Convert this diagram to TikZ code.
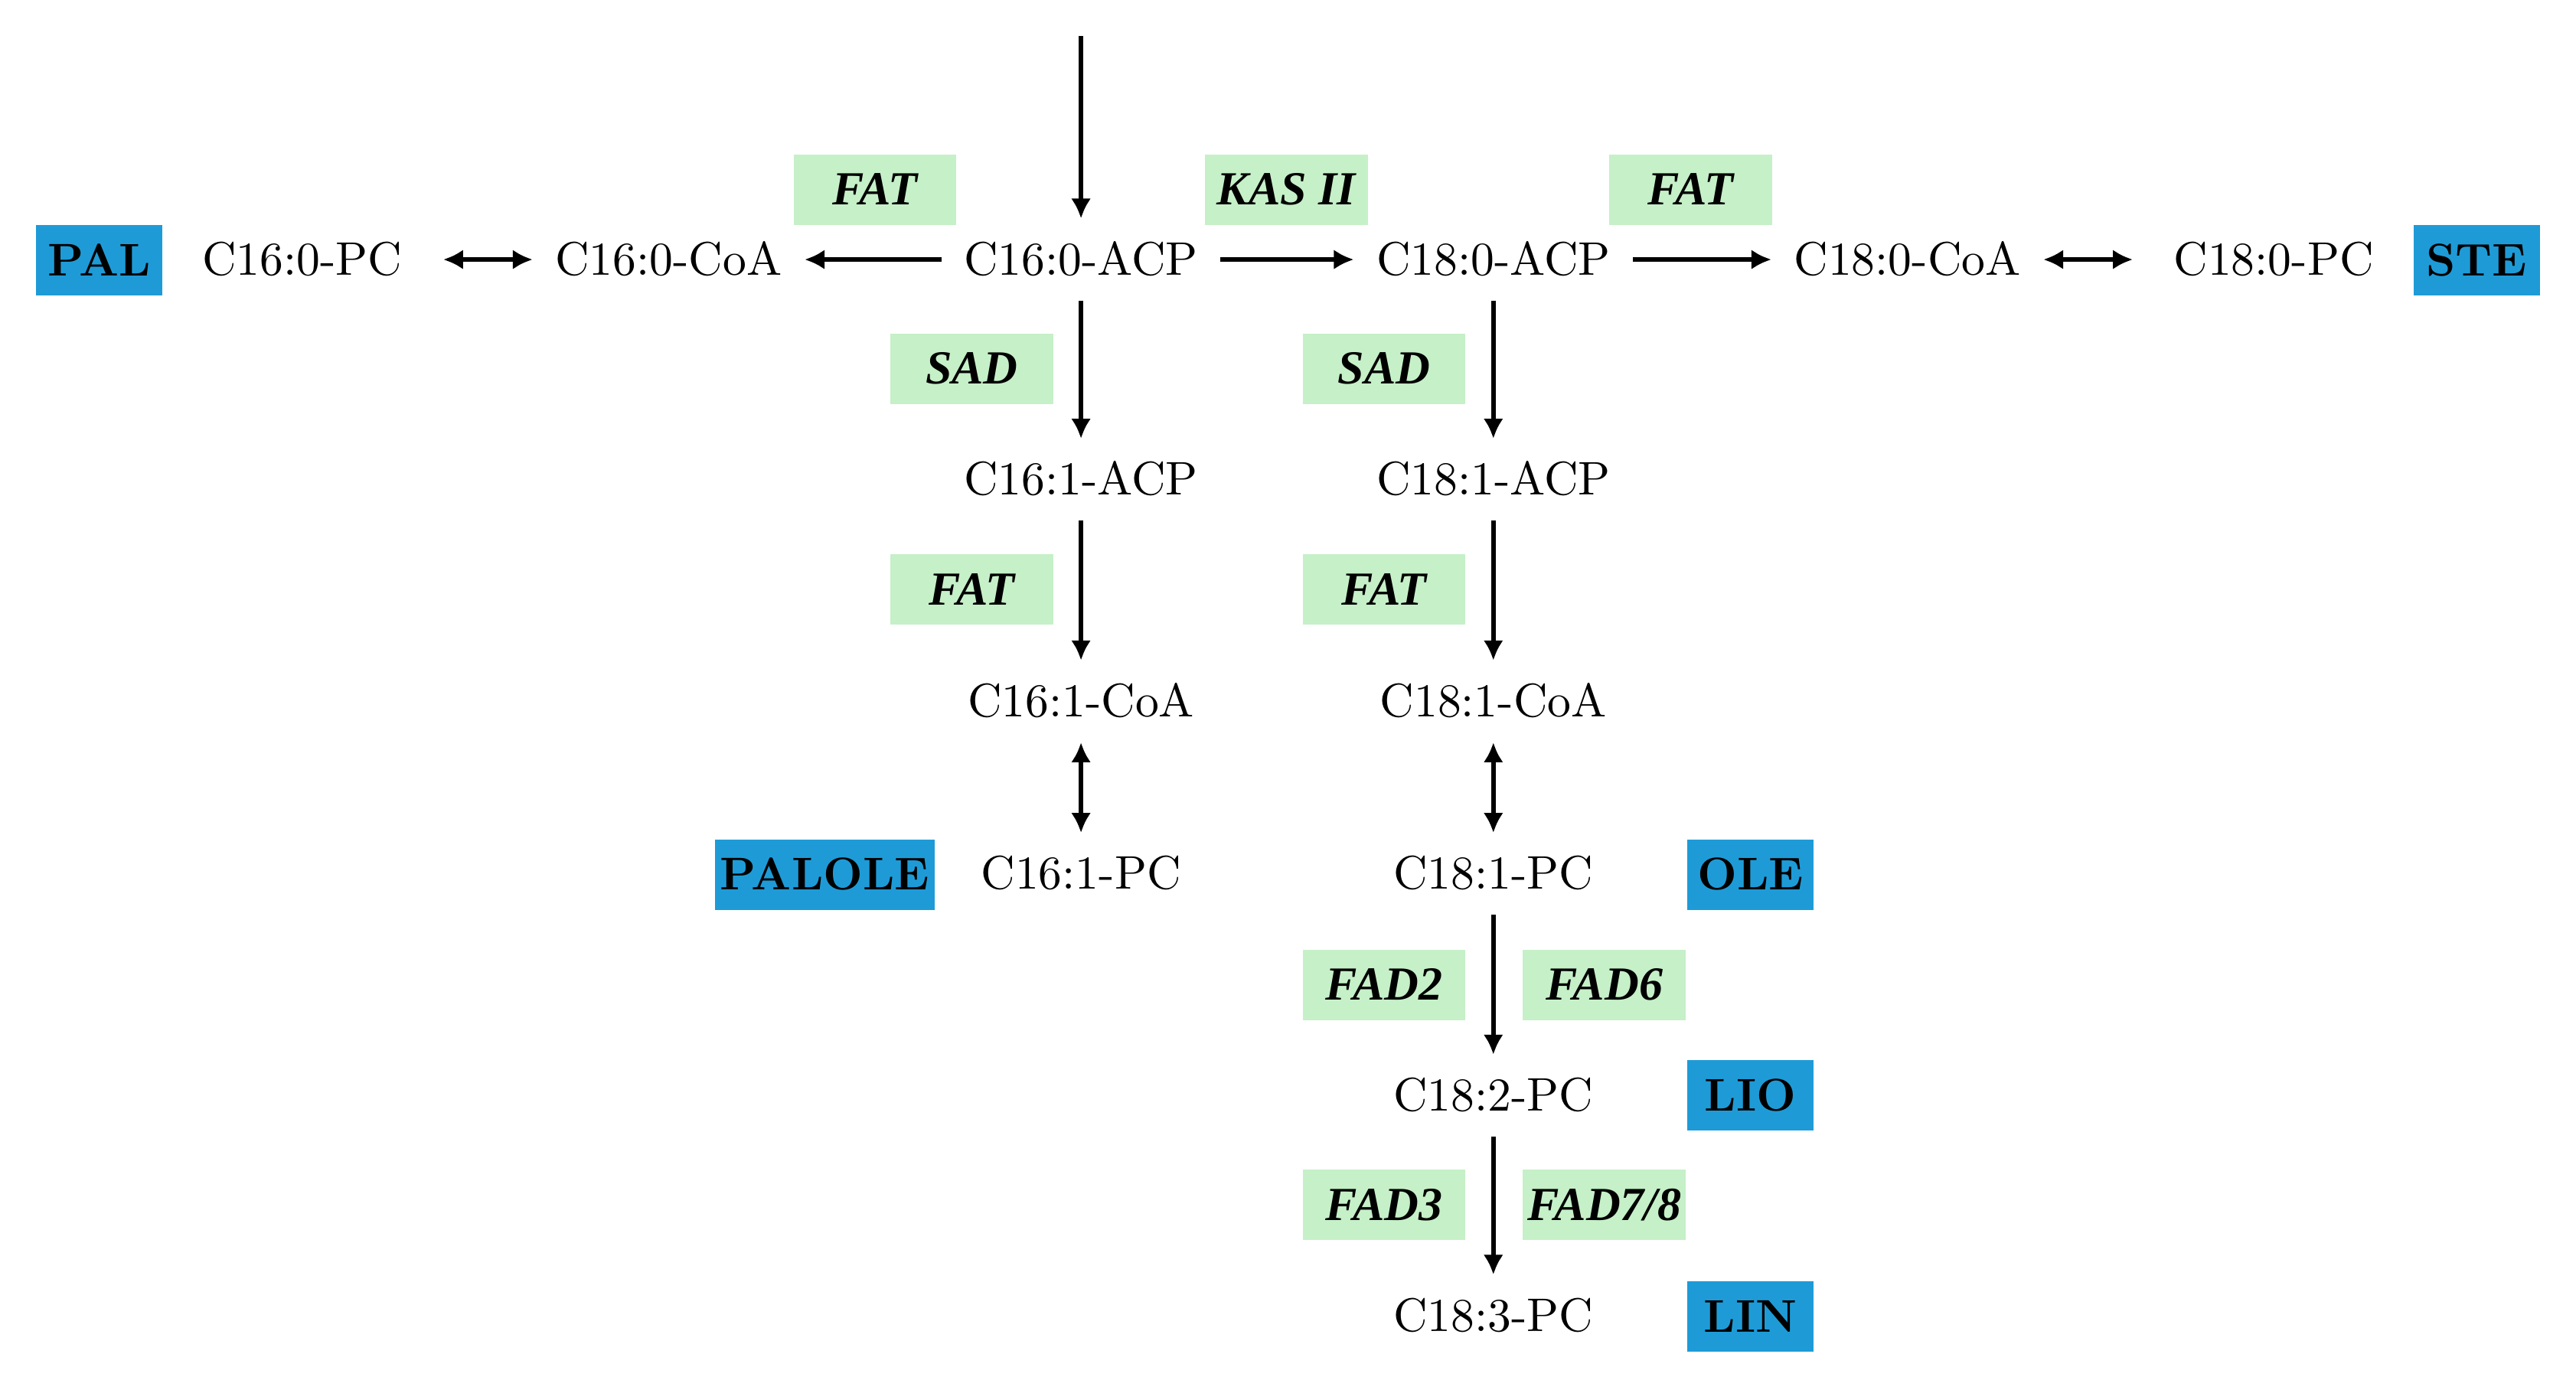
\documentclass[tikz,border=0pt]{standalone}
\usepackage{fontspec}
\setmainfont{lmroman10-regular.otf}[BoldFont=lmroman10-bold.otf,ItalicFont=lmroman10-italic.otf,BoldItalicFont=lmroman10-bolditalic.otf]
\newfontfamily\enzfont{Liberation Serif}
\usetikzlibrary{arrows.meta}
\definecolor{bluebox}{RGB}{30,155,215}
\definecolor{greenbox}{RGB}{198,240,200}
\begin{document}
\begin{tikzpicture}[x=0.5365pt,y=-0.5365pt,
  every node/.style={font=\fontsize{15.4}{18}\selectfont},
  chem/.style={inner xsep=7.4pt,inner ysep=8.4pt,outer sep=0pt,text height=10pt,text depth=0pt},
  lbl/.style={fill=bluebox,inner sep=0pt,minimum height=23pt,minimum width=41.3pt,text height=10pt,text depth=0pt,font=\fontsize{15}{18}\selectfont\bfseries},
  enz/.style={fill=greenbox,inner sep=0pt,minimum height=23pt,minimum width=53.1pt,text height=10pt,text depth=0pt,font=\enzfont\fontsize{15.5}{18}\selectfont\bfseries\itshape},
  arr/.style={line width=1.4pt,-{Latex[length=6.5pt,width=6.5pt]}},
  darr/.style={line width=1.4pt,{Latex[length=6.5pt,width=6.5pt]}-{Latex[length=6.5pt,width=6.5pt]}}]
\useasboundingbox (0,0) rectangle (1568,840);
% chemical nodes
\node[chem] (c160pc) at (184,158) {C16:0-PC};
\node[chem] (c160coa) at (407,158) {C16:0-CoA};
\node[chem] (c160acp) at (658,158) {C16:0-ACP};
\node[chem] (c180acp) at (909,158) {C18:0-ACP};
\node[chem] (c180coa) at (1161,158) {C18:0-CoA};
\node[chem] (c180pc) at (1384,158) {C18:0-PC};
\node[chem] (c161acp) at (658,292) {C16:1-ACP};
\node[chem] (c181acp) at (909,292) {C18:1-ACP};
\node[chem] (c161coa) at (658,427) {C16:1-CoA};
\node[chem] (c181coa) at (909,427) {C18:1-CoA};
\node[chem] (c161pc) at (658,532) {C16:1-PC};
\node[chem] (c181pc) at (909,532) {C18:1-PC};
\node[chem] (c182pc) at (909,667) {C18:2-PC};
\node[chem] (c183pc) at (909,801) {C18:3-PC};
% blue labels
\node[lbl] (pal) at (60.5,158.5) {PAL};
\node[lbl] (ste) at (1507.5,158.5) {STE};
\node[lbl,minimum width=71.9pt] (palole) at (502,532.5) {PALOLE};
\node[lbl] (ole) at (1065.5,532.5) {OLE};
\node[lbl] (lio) at (1065.5,667) {LIO};
\node[lbl] (lin) at (1065.5,801.5) {LIN};
% enzymes
\node[enz] (fat1) at (532.5,115.5) {FAT};
\node[enz] (kas) at (783,115.5) {KAS II};
\node[enz] (fat2) at (1029,115.5) {FAT};
\node[enz] (sad1) at (591.5,224.5) {SAD};
\node[enz] (sad2) at (842.5,224.5) {SAD};
\node[enz] (fat3) at (591.5,359) {FAT};
\node[enz] (fat4) at (842.5,359) {FAT};
\node[enz] (fad2) at (842.5,599.5) {FAD2};
\node[enz] (fad6) at (976.5,599.5) {FAD6};
\node[enz] (fad3) at (842.5,733.5) {FAD3};
\node[enz] (fad78) at (976.5,733.5) {FAD7/8};
% arrows
\coordinate (top) at (658,22);
\draw[arr] (top) -- (c160acp);
\draw[arr] (c160acp) -- (c160coa);
\draw[darr,shorten <=6pt] (c160pc) -- (c160coa);
\draw[arr] (c160acp) -- (c180acp);
\draw[arr] (c180acp) -- (c180coa);
\draw[darr,shorten >=6pt] (c180coa) -- (c180pc);
\draw[arr] (c160acp) -- (c161acp);
\draw[arr] (c180acp) -- (c181acp);
\draw[arr] (c161acp) -- (c161coa);
\draw[arr] (c181acp) -- (c181coa);
\draw[darr] (c161coa) -- (c161pc);
\draw[darr] (c181coa) -- (c181pc);
\draw[arr] (c181pc) -- (c182pc);
\draw[arr] (c182pc) -- (c183pc);
\end{tikzpicture}
\end{document}
